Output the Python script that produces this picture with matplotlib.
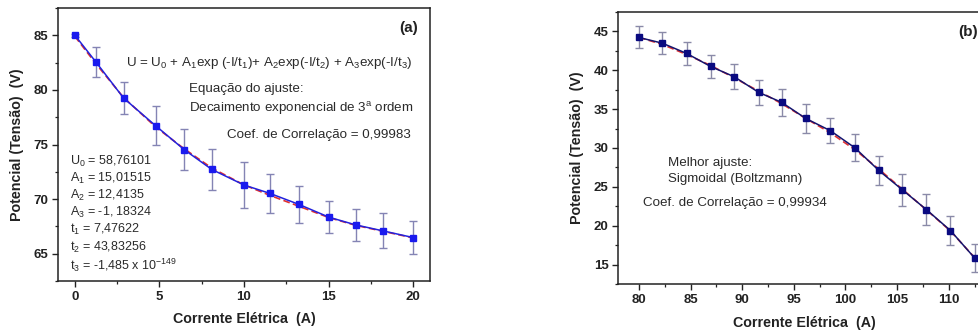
import matplotlib
matplotlib.use("Agg")
import matplotlib.pyplot as plt
from matplotlib.ticker import MultipleLocator

plt.rcParams['font.family'] = ['Liberation Sans', 'DejaVu Sans']
plt.rcParams['mathtext.fontset'] = 'custom'
plt.rcParams['mathtext.rm'] = 'Liberation Sans'
plt.rcParams['mathtext.it'] = 'Liberation Sans:italic'
plt.rcParams['mathtext.bf'] = 'Liberation Sans:bold'

# ---- Panel (a) data ----
current_a = [0, 1.24, 2.88, 4.78, 6.47, 8.09, 10.0, 11.52, 13.24, 15.03, 16.6, 18.22, 20.0]
voltage_a = [85.0, 82.56, 79.25, 76.71, 74.52, 72.72, 71.29, 70.53, 69.52, 68.34, 67.64, 67.09, 66.48]
error_a = [0.15, 1.4, 1.49, 1.8, 1.9, 1.89, 2.13, 1.8, 1.69, 1.48, 1.48, 1.6, 1.54]
fit_a = [84.9, 82.4, 79.3, 76.6, 74.6, 72.85, 71.3, 70.35, 69.35, 68.3, 67.6, 67.05, 66.45]

# ---- Panel (b) data ----
current_b = [80.0, 82.26, 84.62, 86.94, 89.24, 91.6, 93.82, 96.15, 98.54, 100.9, 103.22, 105.52, 107.84, 110.17, 112.53]
voltage_b = [44.19, 43.46, 42.14, 40.47, 39.14, 37.14, 35.86, 33.8, 32.22, 30.04, 27.13, 24.62, 22.09, 19.4, 15.85]
error_b = [1.41, 1.41, 1.5, 1.52, 1.62, 1.6, 1.75, 1.9, 1.6, 1.73, 1.88, 2.03, 1.94, 1.86, 1.82]
fit_b = [44.2, 43.3, 42.0, 40.6, 39.0, 37.3, 35.7, 33.8, 31.95, 29.8, 27.3, 24.7, 22.05, 19.35, 15.9]

W, H = 979, 334
fig = plt.figure(figsize=(W / 100, H / 100), dpi=100)

def pos(x0, y0, x1, y1):
    return [x0 / W, 1 - y1 / H, (x1 - x0) / W, (y1 - y0) / H]

ax1 = fig.add_axes(pos(58, 8, 430, 281))
ax2 = fig.add_axes(pos(618.3, 11.7, 990, 284.3))

txt_color = '#2a2a2a'
fs = 9.6
fs_par = 9.0

def style(ax):
    for s in ax.spines.values():
        s.set_linewidth(1.1)
        s.set_color('#222222')
    ax.tick_params(which='major', direction='out', length=4, width=1.0,
                   labelsize=9.5, colors='#222222', pad=3)
    ax.tick_params(which='minor', direction='out', length=2.5, width=0.9, colors='#222222')
    for lab in ax.get_xticklabels() + ax.get_yticklabels():
        lab.set_fontweight('bold')

# Panel (a)
ax1.plot(current_a, fit_a, color='#e03030', linestyle=(0, (4, 2)), linewidth=1.2, zorder=2)
ax1.errorbar(current_a, voltage_a, yerr=error_a, fmt='s', color='#1a1aee', markersize=4.5,
             ecolor='#8484b4', elinewidth=1.0, capsize=3, capthick=1.0, zorder=3)
ax1.plot(current_a, voltage_a, color='#2222dd', linewidth=1.1, zorder=2)
ax1.set_xlim(-1, 21)
ax1.set_ylim(62.5, 87.5)
ax1.xaxis.set_major_locator(MultipleLocator(5))
ax1.xaxis.set_minor_locator(MultipleLocator(2.5))
ax1.yaxis.set_major_locator(MultipleLocator(5))
ax1.yaxis.set_minor_locator(MultipleLocator(2.5))
style(ax1)
ax1.set_xlabel('Corrente Elétrica  (A)', fontsize=10.3, fontweight='bold', color='#222222', labelpad=7)
ax1.set_ylabel('Potencial (Tensão)  (V)', fontsize=10.3, fontweight='bold', color='#222222', labelpad=7)

ax1.text(0.967, 0.928, '(a)', transform=ax1.transAxes, ha='right', va='center',
         fontsize=11, fontweight='bold', color='#222222')
ax1.text(0.567, 0.797,
         r'U = U$\mathregular{_0}$ + A$\mathregular{_1}$exp (-I/t$\mathregular{_1}$)+ A$\mathregular{_2}$exp(-I/t$\mathregular{_2}$) + A$\mathregular{_3}$exp(-I/t$\mathregular{_3}$)',
         transform=ax1.transAxes, ha='center', va='center', fontsize=fs, color=txt_color)
ax1.text(0.353, 0.703, 'Equação do ajuste:', transform=ax1.transAxes, ha='left', va='center',
         fontsize=fs, color=txt_color)
ax1.text(0.353, 0.633, r'Decaimento exponencial de 3$\mathregular{^a}$ ordem', transform=ax1.transAxes,
         ha='left', va='center', fontsize=fs, color=txt_color)
ax1.text(0.453, 0.535, 'Coef. de Correlação = 0,99983', transform=ax1.transAxes, ha='left', va='center',
         fontsize=fs, color=txt_color)

params = [r'U$\mathregular{_0}$ = 58,76101',
          r'A$\mathregular{_1}$ = 15,01515',
          r'A$\mathregular{_2}$ = 12,4135',
          r'A$\mathregular{_3}$ = -1, 18324',
          r't$\mathregular{_1}$ = 7,47622',
          r't$\mathregular{_2}$ = 43,83256',
          r't$\mathregular{_3}$ = -1,485 x 10$\mathregular{^{-149}}$']
param_y = [0.437, 0.376, 0.315, 0.250, 0.187, 0.122, 0.056]
for s, yy in zip(params, param_y):
    ax1.text(0.032, yy, s, transform=ax1.transAxes, ha='left', va='center', fontsize=fs_par, color=txt_color)

# Panel (b)
ax2.plot(current_b, fit_b, color='#e03030', linestyle=(0, (4, 2)), linewidth=1.2, zorder=2)
ax2.errorbar(current_b, voltage_b, yerr=error_b, fmt='s', color='#0a0a80', markersize=4.5,
             ecolor='#8a8aa8', elinewidth=1.0, capsize=3, capthick=1.0, zorder=3)
ax2.plot(current_b, voltage_b, color='#14146e', linewidth=1.1, zorder=2)
ax2.set_xlim(78, 114)
ax2.set_ylim(12.5, 47.5)
ax2.xaxis.set_major_locator(MultipleLocator(5))
ax2.xaxis.set_minor_locator(MultipleLocator(2.5))
ax2.yaxis.set_major_locator(MultipleLocator(5))
ax2.yaxis.set_minor_locator(MultipleLocator(2.5))
style(ax2)
ax2.set_xlabel('Corrente Elétrica  (A)', fontsize=10.3, fontweight='bold', color='#222222', labelpad=7)
ax2.set_ylabel('Potencial (Tensão)  (V)', fontsize=10.3, fontweight='bold', color='#222222', labelpad=7)

ax2.text(0.967, 0.927, '(b)', transform=ax2.transAxes, ha='right', va='center',
         fontsize=11, fontweight='bold', color='#222222')
ax2.text(0.133, 0.446, 'Melhor ajuste:', transform=ax2.transAxes, ha='left', va='center',
         fontsize=fs, color=txt_color)
ax2.text(0.133, 0.386, 'Sigmoidal (Boltzmann)', transform=ax2.transAxes, ha='left', va='center',
         fontsize=fs, color=txt_color)
ax2.text(0.066, 0.297, 'Coef. de Correlação = 0,99934', transform=ax2.transAxes, ha='left', va='center',
         fontsize=fs, color=txt_color)

fig.savefig('out.png', dpi=100)
